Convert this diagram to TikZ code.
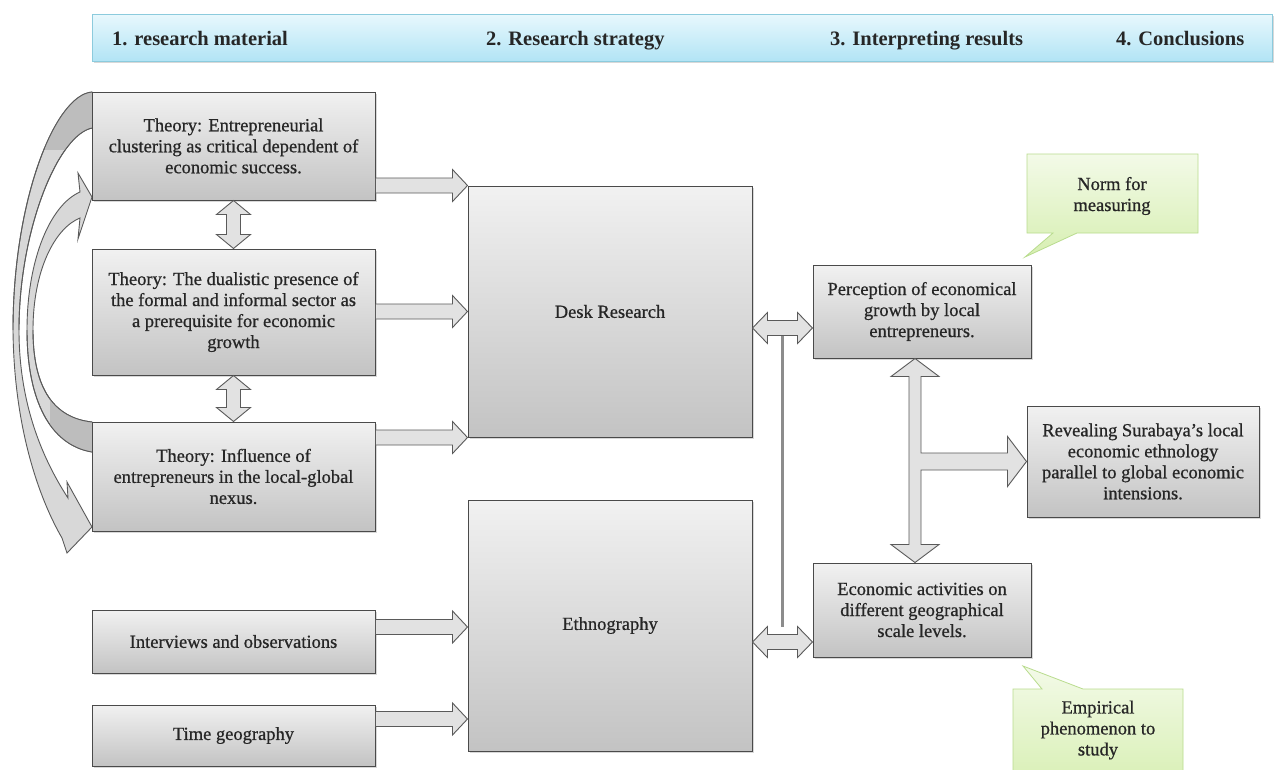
\documentclass[tikz,border=0pt]{standalone}
\usepackage{fontspec}
\setmainfont{Liberation Serif}
\newfontfamily\boxfont{Liberation Serif}[FakeBold=0.7]
\usetikzlibrary{calc,shadows}
\definecolor{boxtop}{HTML}{F1F1F1}
\definecolor{boxbot}{HTML}{C3C3C3}
\definecolor{boxline}{HTML}{4A4A4A}
\definecolor{txt}{HTML}{262626}
\definecolor{arrfill}{HTML}{E2E2E2}
\definecolor{arrline}{HTML}{5A5A5A}
\definecolor{carrfill}{HTML}{D8D8D8}
\definecolor{carrdark}{HTML}{BDBDBD}
\definecolor{hdtop}{HTML}{E8F8FD}
\definecolor{hdbot}{HTML}{B2E4F5}
\definecolor{hdline}{HTML}{8CCBDD}
\definecolor{grtop}{HTML}{F3FAE8}
\definecolor{grbot}{HTML}{D7EFB2}
\definecolor{grline}{HTML}{B9DC8E}
\definecolor{vline}{HTML}{8C8C8C}

\tikzset{
  gbox/.style={draw=boxline, line width=1pt, top color=boxtop, bottom color=boxbot,
    align=center, text=txt, font=\boxfont\fontsize{18.5}{21}\selectfont, inner sep=0pt,
    drop shadow={shadow xshift=1.5pt, shadow yshift=-1.5pt, opacity=0.3}},
  blk/.style={draw=arrline, fill=arrfill, line width=0.9pt, line join=miter},
  carr/.style={draw=arrline, fill=carrfill, line width=0.9pt, line join=miter},
  hdbar/.style={draw=hdline, line width=0.8pt, top color=hdtop, bottom color=hdbot,
    drop shadow={shadow xshift=1.5pt, shadow yshift=-2pt, opacity=0.3}},
  hdtext/.style={font=\bfseries\fontsize{20.5}{23}\selectfont, text=txt, anchor=base west, inner sep=0pt},
  callout/.style={draw=grline, line width=0.8pt, top color=grtop, bottom color=grbot},
  ctext/.style={align=center, text=txt, font=\boxfont\fontsize{18.5}{21}\selectfont, inner sep=0pt},
  thinline/.style={draw=vline, line width=2.2pt}
}

% right-pointing block arrow: tail, tip, shaft half, head half, head length
\newcommand\rarr[5]{%
  \path[blk] let \p1=#1, \p2=#2 in
  (\x1,{\y2+#3pt}) -- ({\x2-#5pt},{\y2+#3pt}) -- ({\x2-#5pt},{\y2+#4pt}) -- (\p2)
  -- ({\x2-#5pt},{\y2-#4pt}) -- ({\x2-#5pt},{\y2-#3pt}) -- (\x1,{\y2-#3pt}) -- cycle;}
% horizontal double block arrow: left tip, right tip, shaft half, head half, head length
\newcommand\hdarr[5]{%
  \path[blk] let \p1=#1, \p2=#2 in
  (\p1) -- ({\x1+#5pt},{\y1+#4pt}) -- ({\x1+#5pt},{\y1+#3pt}) -- ({\x2-#5pt},{\y1+#3pt})
  -- ({\x2-#5pt},{\y1+#4pt}) -- (\x2,\y1) -- ({\x2-#5pt},{\y1-#4pt}) -- ({\x2-#5pt},{\y1-#3pt})
  -- ({\x1+#5pt},{\y1-#3pt}) -- ({\x1+#5pt},{\y1-#4pt}) -- cycle;}
% vertical double block arrow: top tip, bottom tip, shaft half, head half, head length
\newcommand\vdarr[5]{%
  \path[blk] let \p1=#1, \p2=#2 in
  (\p1) -- ({\x1+#4pt},{\y1-#5pt}) -- ({\x1+#3pt},{\y1-#5pt}) -- ({\x1+#3pt},{\y2+#5pt})
  -- ({\x1+#4pt},{\y2+#5pt}) -- (\x1,\y2) -- ({\x1-#4pt},{\y2+#5pt}) -- ({\x1-#3pt},{\y2+#5pt})
  -- ({\x1-#3pt},{\y1-#5pt}) -- ({\x1-#4pt},{\y1-#5pt}) -- cycle;}

\begin{document}
\begin{tikzpicture}[x=1pt,y=-1pt]
\clip (0,0) rectangle (1276,769);
\fill[white] (0,0) rectangle (1276,769);

% header
\path[hdbar] (92,14) rectangle (1272,61);
\node[hdtext] (h1) at (112,45) {1. research material};
\node[hdtext] (h2) at (486,45) {2. Research strategy};
\node[hdtext] (h3) at (830,45) {3. Interpreting results};
\node[hdtext] (h4) at (1116,45) {4. Conclusions};

% curved arrows on the left
\path[carr] (92,92) .. controls (55,95) and (13,200) .. (13,330)
  .. controls (14,430) and (40,500) .. (62,538) -- (67,553) -- (92,527) -- (67,482) -- (68,498)
  .. controls (40,455) and (19,400) .. (19,330) .. controls (19,230) and (58,135) .. (92,128) -- cycle;
\begin{scope}
  \clip (92,92) .. controls (55,95) and (13,200) .. (13,330) -- (19,330)
    .. controls (19,230) and (58,135) .. (92,128) -- cycle;
  \fill[carrdark] (45,80) rectangle (92,150);
\end{scope}
\path[carr, fill=none] (92,92) .. controls (55,95) and (13,200) .. (13,330);
\path[carr, fill=none] (19,330) .. controls (19,230) and (58,135) .. (92,128);

\path[carr] (92,452) .. controls (50,445) and (27,400) .. (27,330)
  .. controls (27,260) and (50,205) .. (80,192) -- (78,173) -- (92,197) -- (78,239) -- (80,218)
  .. controls (55,228) and (33,270) .. (33,330) .. controls (33,390) and (55,418) .. (92,422) -- cycle;
\begin{scope}
  \clip (92,452) .. controls (50,445) and (27,400) .. (27,330) -- (33,330)
    .. controls (33,390) and (55,418) .. (92,422) -- cycle;
  \fill[carrdark] (50,395) rectangle (92,460);
\end{scope}
\path[carr, fill=none] (92,452) .. controls (50,445) and (27,400) .. (27,330);
\path[carr, fill=none] (33,330) .. controls (33,390) and (55,418) .. (92,422);

% boxes
\node[gbox, minimum width=283, minimum height=108] (t1) at (233.5,146)
  {Theory: Entrepreneurial\\clustering as critical dependent of\\economic success.};
\node[gbox, minimum width=283, minimum height=126] (t2) at (233.5,312)
  {Theory: The dualistic presence of\\the formal and informal sector as\\a prerequisite for economic\\growth};
\node[gbox, minimum width=283, minimum height=109] (t3) at (233.5,476.5)
  {Theory: Influence of\\entrepreneurs in the local-global\\nexus.};
\node[gbox, minimum width=283, minimum height=63] (iv) at (233.5,641.5)
  {Interviews and observations};
\node[gbox, minimum width=283, minimum height=61] (tg) at (233.5,735.5)
  {Time geography};
\node[gbox, minimum width=284, minimum height=251] (desk) at (610,311.5) {Desk Research};
\node[gbox, minimum width=284, minimum height=251] (ethno) at (610,625.5) {Ethnography};
\node[gbox, minimum width=218, minimum height=93] (perc) at (922,311.5)
  {Perception of economical\\growth by local\\entrepreneurs.};
\node[gbox, minimum width=218, minimum height=94] (econ) at (922,610)
  {Economic activities on\\different geographical\\scale levels.};
\node[gbox, minimum width=232, minimum height=111] (reveal) at (1143,461.5)
  {Revealing Surabaya’s local\\economic ethnology\\parallel to global economic\\intensions.};

% callouts
\path[callout] (1027,154) -- (1198,154) -- (1198,233) -- (1077,233) -- (1025,257) -- (1053,233) -- (1027,233) -- cycle;
\node[ctext] (norm) at (1112,196) {Norm for\\measuring};
\path[callout] (1013,689) -- (1042,689) -- (1023,666) -- (1083,689) -- (1183,689) -- (1183,790) -- (1013,790) -- cycle;
\node[ctext] (emp) at (1098,730) {Empirical\\phenomenon to\\study};

% block arrows to the strategy boxes
\rarr{(t1.east|-desk.north)}{(desk.north west)}{7.5}{16}{15}
\rarr{(t2.east|-desk.west)}{(desk.west)}{7.5}{16}{15}
\rarr{(t3.east|-desk.south)}{(desk.south west)}{7.5}{16}{15}
\rarr{($(iv.east)+(0,-14.5)$)}{($(ethno.west|-iv.east)+(0,-14.5)$)}{7.5}{16}{15}
\rarr{($(tg.east)+(0,-16.5)$)}{($(ethno.west|-tg.east)+(0,-16.5)$)}{7.5}{16}{15}

% vertical double arrows between theories
\vdarr{(t1.south)}{(t2.north)}{7}{17}{14}
\vdarr{(t2.south)}{(t3.north)}{7}{17}{14}

% thin connecting line and double arrows to results
\draw[thinline] ($(desk.east)!.5!(perc.west)+(0,24)$) -- ($(ethno.east)!.5!(econ.west)+(0,9)$);
\hdarr{($(desk.east)+(0,16.5)$)}{($(perc.west)+(0,16.5)$)}{7.5}{15.5}{15}
\hdarr{($(ethno.east)+(0,16.5)$)}{($(econ.west)+(0,32)$)}{7.5}{15.5}{15}

% big T-shaped arrow
\path[blk] let \p1=($(perc.south)+(-7,0)$), \p2=($(econ.north)+(-7,0)$), \p3=(reveal.west) in
  (\p1) -- ({\x1+24pt},{\y1-18pt}) -- ({\x1+6pt},{\y1-18pt}) -- ({\x1+6pt},{\y3+8.5pt})
  -- ({\x3-19pt},{\y3+8.5pt}) -- ({\x3-19pt},{\y3+25pt}) -- (\p3) -- ({\x3-19pt},{\y3-25pt})
  -- ({\x3-19pt},{\y3-8.5pt}) -- ({\x1+6pt},{\y3-8.5pt}) -- ({\x1+6pt},{\y2+18pt})
  -- ({\x1+24pt},{\y2+18pt}) -- (\x1,\y2) -- ({\x1-24pt},{\y2+18pt}) -- ({\x1-6pt},{\y2+18pt})
  -- ({\x1-6pt},{\y1-18pt}) -- ({\x1-24pt},{\y1-18pt}) -- cycle;
\end{tikzpicture}
\end{document}
